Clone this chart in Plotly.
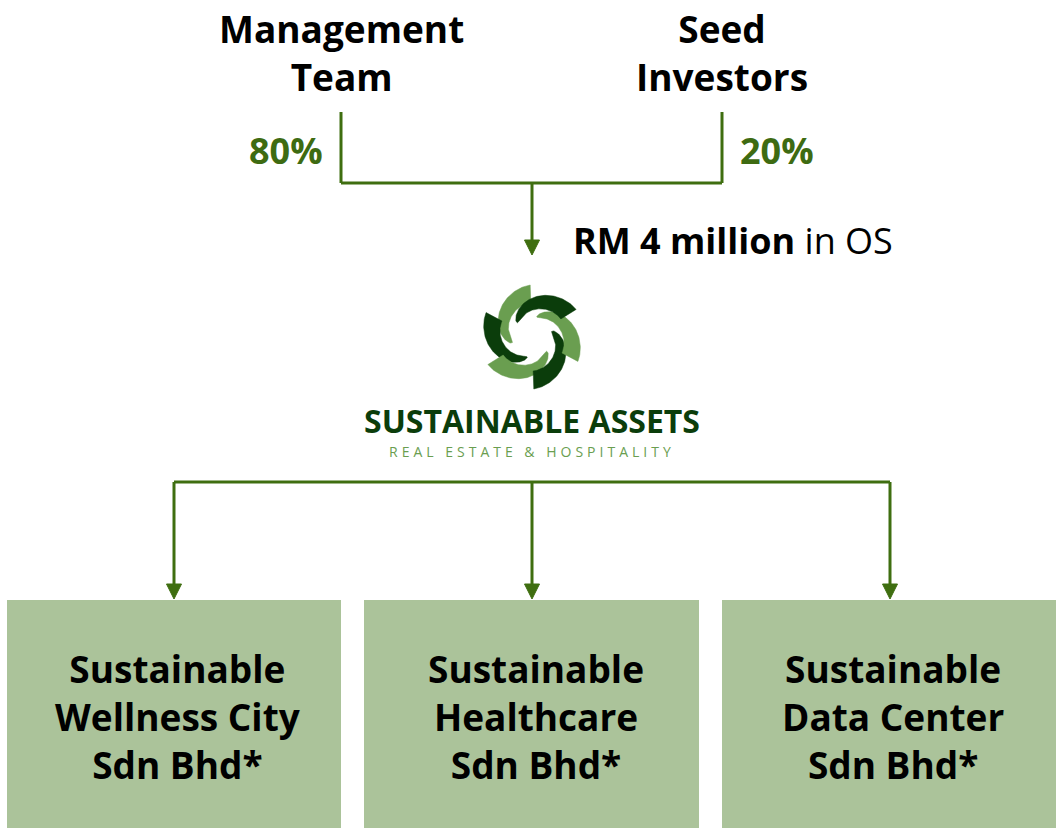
import numpy as np
import plotly.graph_objects as go

# ---------------- data ----------------
shareholders = ["Management<br>Team", "Seed<br>Investors"]
share_pct = ["80%", "20%"]
capital_label = "<b>RM 4 million</b> in OS"
holding_name = "SUSTAINABLE ASSETS"
holding_tagline = "REAL ESTATE & HOSPITALITY"
subsidiaries = [
    "Sustainable<br>Wellness City<br>Sdn Bhd*",
    "Sustainable<br>Healthcare<br>Sdn Bhd*",
    "Sustainable<br>Data Center<br>Sdn Bhd*",
]

# ---------------- layout constants ----------------
W, H = 1056, 828
LINE = "#3f6e10"
GREEN_TXT = "#3e6b12"
BOX = "#abc39a"
DARK = "#0b3d0b"
LIGHT = "#6a9e50"
FONT = "Open Sans"

sh_x = [341, 722]
mid_x = 532
sub_x = [174, 532, 890]
box_edges = [(7, 341), (364, 699), (722, 1056)]

fig = go.Figure()
shapes = []
ann = []

def seg(x0, y0, x1, y1):
    shapes.append(dict(type="line", x0=x0, y0=y0, x1=x1, y1=y1,
                       line=dict(color=LINE, width=3), layer="above"))

def arrowhead(x, y_tip, size=15):
    xs = [x - size / 2, x + size / 2, x, x - size / 2]
    ys = [y_tip - size, y_tip - size, y_tip, y_tip - size]
    fig.add_trace(go.Scatter(x=xs, y=ys, mode="lines", fill="toself",
                             fillcolor=LINE, line=dict(color=LINE, width=1),
                             hoverinfo="skip", showlegend=False))

# boxes
for (x0, x1) in box_edges:
    shapes.append(dict(type="rect", x0=x0, x1=x1, y0=600, y1=828,
                       fillcolor=BOX, line=dict(width=0), layer="below"))

# top shareholders
for x, name, pct, side in zip(sh_x, shareholders, share_pct, ["left", "right"]):
    ann.append(dict(x=x, y=52, text=f"<b>{name}</b>", showarrow=False,
                    font=dict(family=FONT, size=37, color="#000"),
                    xanchor="center", yanchor="middle", align="center"))
    seg(x, 112, x, 183)
    if side == "left":
        ann.append(dict(x=x - 16, y=150, text=f"<b>{pct}</b>", showarrow=False,
                        font=dict(family=FONT, size=36, color=GREEN_TXT),
                        xanchor="right", yanchor="middle"))
    else:
        ann.append(dict(x=x + 16, y=150, text=f"<b>{pct}</b>", showarrow=False,
                        font=dict(family=FONT, size=36, color=GREEN_TXT),
                        xanchor="left", yanchor="middle"))
seg(sh_x[0], 183, sh_x[1], 183)
seg(mid_x, 183, mid_x, 242)
arrowhead(mid_x, 255)
ann.append(dict(x=571, y=240, text=capital_label, showarrow=False,
                font=dict(family=FONT, size=36, color="#000"),
                xanchor="left", yanchor="middle"))

# logo swirl
cx, cy = 532, 337
colors = [LIGHT, DARK, LIGHT, DARK, LIGHT, DARK]
starts = [92, 152, 212, 272, 332, 32]
for a0, col in zip(starts, colors):
    t = np.linspace(0, 1, 80)
    ang = np.radians(a0 + 105 * t)
    rc = 43 - 22 * t ** 1.3
    hw = 9.0 * (1 - t) ** 0.5
    ro, ri = rc + hw, rc - hw
    xo, yo = cx + ro * np.cos(ang), cy - ro * np.sin(ang)
    xi, yi = cx + ri * np.cos(ang), cy - ri * np.sin(ang)
    xs = np.concatenate([xo, xi[::-1], xo[:1]])
    ys = np.concatenate([yo, yi[::-1], yo[:1]])
    fig.add_trace(go.Scatter(x=xs, y=ys, mode="lines", fill="toself",
                             fillcolor=col, line=dict(color=col, width=0.5),
                             hoverinfo="skip", showlegend=False))

ann.append(dict(x=mid_x, y=420, text=f"<b>{holding_name}</b>", showarrow=False,
                font=dict(family=FONT, size=32, color=DARK),
                xanchor="center", yanchor="middle"))
ann.append(dict(x=mid_x, y=451,
                text=f'<span style="letter-spacing:4px">{holding_tagline}</span>',
                showarrow=False,
                font=dict(family=FONT, size=14, color=LIGHT),
                xanchor="center", yanchor="middle"))

# bracket to subsidiaries
seg(sub_x[0], 482, sub_x[-1], 482)
for x, name, (bx0, bx1) in zip(sub_x, subsidiaries, box_edges):
    seg(x, 482, x, 586)
    arrowhead(x, 599)
    ann.append(dict(x=(bx0 + bx1) / 2 + 4, y=716, text=f"<b>{name}</b>",
                    showarrow=False,
                    font=dict(family=FONT, size=37, color="#000"),
                    xanchor="center", yanchor="middle", align="center"))

fig.update_layout(
    width=W, height=H, margin=dict(l=0, r=0, t=0, b=0),
    paper_bgcolor="white", plot_bgcolor="white",
    xaxis=dict(range=[0, W], visible=False, fixedrange=True),
    yaxis=dict(range=[H, 0], visible=False, fixedrange=True),
    shapes=shapes, annotations=ann, showlegend=False,
)
fig.write_html("out.html", config={"displayModeBar": False},
               post_script="document.body.style.margin='0';")
